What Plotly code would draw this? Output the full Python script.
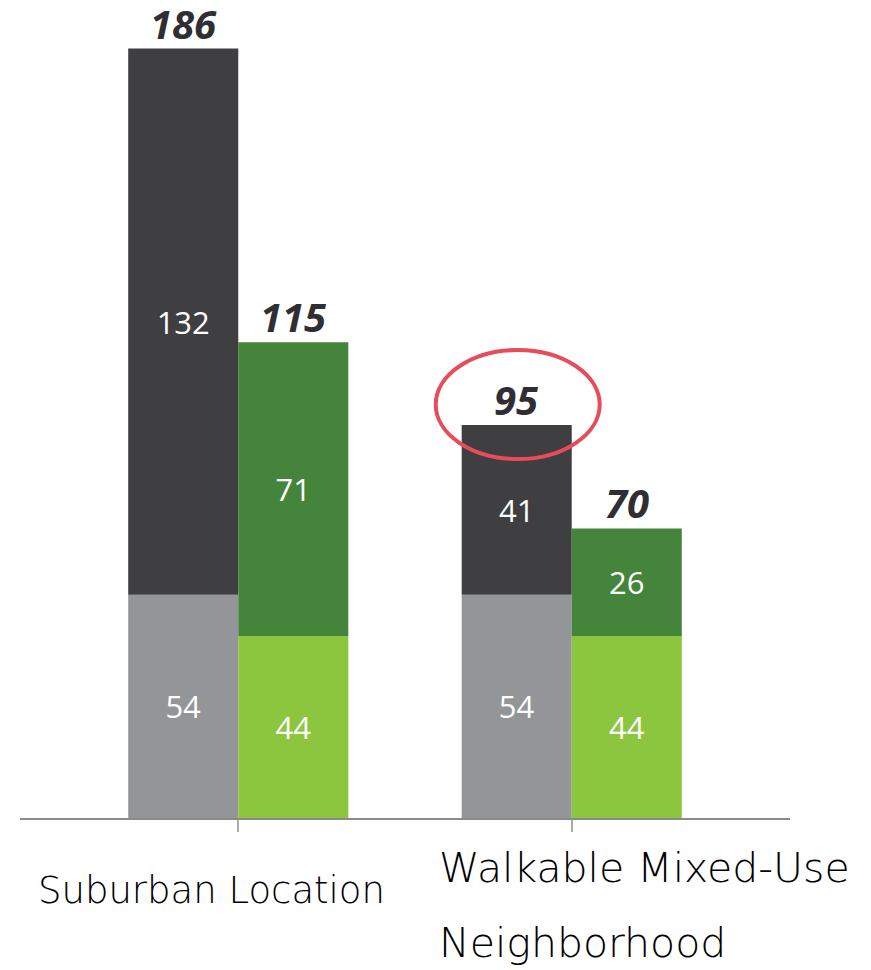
import plotly.graph_objects as go

categories = ["Suburban Location", "Walkable Mixed-Use", "Neighborhood"]
gray_base = [54, 54]
gray_top = [132, 41]
green_base = [44, 44]
green_top = [71, 26]

c_lgray = "#939598"
c_dgray = "#3f3e40"
c_lgreen = "#8cc63f"
c_dgreen = "#44843b"

xs = [0, 1]
W = 0.33  # bar width in category units

fig = go.Figure()
txtfont = dict(family="Open Sans", size=31, color="white", weight=500)

def add(vals, base, color, og):
    fig.add_trace(go.Bar(
        x=xs, y=vals, base=base, offsetgroup=og, width=W,
        marker=dict(color=color, line=dict(width=0)),
        text=[str(v) for v in vals], textposition="inside",
        insidetextanchor="middle", textfont=txtfont, textangle=0,
        hoverinfo="skip", showlegend=False,
    ))

add(gray_base, None, c_lgray, "a")
add(gray_top, gray_base, c_dgray, "a")
add(green_base, None, c_lgreen, "b")
add(green_top, green_base, c_dgreen, "b")

gray_tot = [a + b for a, b in zip(gray_base, gray_top)]
green_tot = [a + b for a, b in zip(green_base, green_top)]

for i in range(2):
    for tot, off in ((gray_tot[i], -W / 2), (green_tot[i], W / 2)):
        fig.add_annotation(
            x=xs[i] + off, y=tot, xref="x", yref="y", text=f"<i>{tot}</i>",
            showarrow=False, yanchor="bottom", yshift=-4,
            font=dict(family="Open Sans", size=40, color="#2f2e33", weight=700),
        )

# category labels
lab_font = dict(family="DejaVu Sans", size=37, color="#000", weight=200)
fig.add_annotation(x=xs[0], y=-0.0914, xref="x", yref="paper", text=categories[0],
                   showarrow=False, xanchor="left", yanchor="middle", xshift=-202,
                   font=lab_font)
fig.add_annotation(x=xs[1], y=-0.0635, xref="x", yref="paper", text=categories[1],
                   showarrow=False, xanchor="left", yanchor="middle", xshift=-135,
                   font=dict(lab_font, size=41))
fig.add_annotation(x=xs[1], y=-0.1586, xref="x", yref="paper", text=categories[2],
                   showarrow=False, xanchor="left", yanchor="middle", xshift=-135,
                   font=dict(lab_font, size=41))

# red ellipse around the walkable total
fig.add_shape(type="circle", xref="x", yref="y", xsizemode="pixel", ysizemode="pixel",
              xanchor=xs[1] - W / 2, yanchor=gray_tot[1],
              x0=-81, x1=83, y0=-34, y1=75,
              line=dict(color="#e84b5a", width=4))

fig.update_layout(
    width=863, height=962,
    margin=dict(l=12, r=81, t=22, b=152),
    paper_bgcolor="white", plot_bgcolor="white",
    barmode="group", bargap=0.34, bargroupgap=0,
    xaxis=dict(range=[-0.6545, 1.6545], tickvals=xs, showticklabels=False,
               ticks="outside", ticklen=12, tickcolor="#aaaaaa", tickwidth=2,
               showline=True, linecolor="#8a8a8a", linewidth=2, showgrid=False,
               zeroline=False),
    yaxis=dict(range=[0, 190.5], visible=False),
)

fig.write_html("out.html")
